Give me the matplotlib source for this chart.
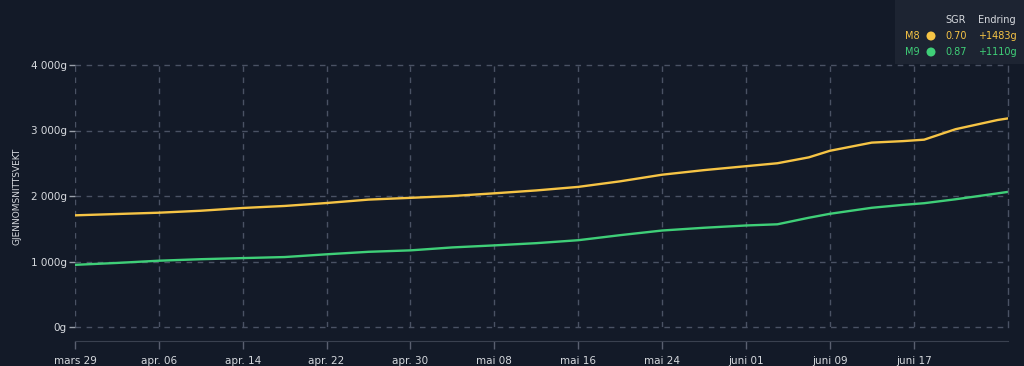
import matplotlib
matplotlib.use("Agg")
import matplotlib.pyplot as plt
import pandas as pd
from matplotlib.patches import Rectangle, Ellipse

# ---- data ----
day_offsets = [0, 4, 8, 12, 16, 20, 24, 28, 32, 36, 40, 44, 48, 52, 56, 60, 64, 67, 70, 72, 76, 79, 81, 84, 88, 89]
m8_values = [1705, 1725, 1745, 1775, 1817, 1848, 1893, 1945, 1972, 2000, 2041, 2085, 2139, 2224, 2325,
             2395, 2455, 2500, 2590, 2690, 2815, 2838, 2860, 3020, 3160, 3185]
m9_values = [949, 978, 1012, 1035, 1052, 1068, 1110, 1148, 1170, 1215, 1246, 1280, 1325, 1402, 1473,
             1515, 1550, 1568, 1668, 1728, 1820, 1865, 1890, 1950, 2040, 2063]
series_names = ["M8", "M9"]
sgr_values = ["0.70", "0.87"]
change_values = ["+1483g", "+1110g"]
y_ticks = [0, 1000, 2000, 3000, 4000]
y_tick_labels = ["0g", "1 000g", "2 000g", "3 000g", "4 000g"]
month_names = {3: "mars", 4: "apr.", 5: "mai", 6: "juni"}

start = pd.Timestamp("2024-03-29")
dates = [start + pd.Timedelta(days=d) for d in day_offsets]

BG = "#131a28"
GRID = "#4a5264"
TXT = "#d6d9de"
YELLOW = "#f6c445"
GREEN = "#3fcf78"

fig = plt.figure(figsize=(10.24, 3.66), dpi=100, facecolor=BG)
ax = fig.add_axes([75/1024, 1 - 327/366, (1008 - 75)/1024, (327 - 65)/366])
ax.set_facecolor(BG)

ax.plot(dates, m8_values, color=YELLOW, lw=1.7, solid_capstyle="round", solid_joinstyle="round")
ax.plot(dates, m9_values, color=GREEN, lw=1.7, solid_capstyle="round", solid_joinstyle="round")

ax.set_xlim(dates[0], dates[-1])
ax.set_ylim(0, 4000)

xt = [start + pd.Timedelta(days=8 * i) for i in range(11)]
ax.set_xticks(xt)
ax.set_xticklabels([f"{month_names[d.month]} {d.day:02d}" for d in xt])
ax.set_yticks(y_ticks)
ax.set_yticklabels(y_tick_labels)

ax.grid(True, color=GRID, ls=(0, (4, 4)), lw=1.0)
ax.set_axisbelow(True)
for gl in ax.get_xgridlines() + ax.get_ygridlines():
    gl.set_clip_on(False)

for s in ["top", "left"]:
    ax.spines[s].set_visible(False)
ax.spines["right"].set_color(GRID)
ax.spines["right"].set_linestyle((0, (4, 4)))
ax.spines["right"].set_linewidth(1.0)
ax.spines["bottom"].set_position(("outward", 10))
ax.spines["bottom"].set_color("#3a4150")

ax.tick_params(axis="x", colors="#5a6070", length=6, width=1, labelcolor=TXT, labelsize=7.5, pad=5)
ax.tick_params(axis="y", colors="#9aa0aa", length=4, width=1, labelcolor=TXT, labelsize=7.5, pad=2)

fig.text(17/1024, 1 - 196/366, "GJENNOMSNITTSVEKT", rotation=90, ha="center", va="center",
         color=TXT, fontsize=6.5)

# legend table
fig.patches.append(Rectangle((895/1024, 1 - 64/366), (1024 - 895)/1024, 64/366,
                             transform=fig.transFigure, facecolor="#1d2432", edgecolor="none", zorder=5))
fig.text(956/1024, 1 - 20/366, "SGR", ha="center", va="center", color=TXT, fontsize=7, zorder=6)
fig.text(997/1024, 1 - 20/366, "Endring", ha="center", va="center", color=TXT, fontsize=7, zorder=6)
for i, (name, col) in enumerate(zip(series_names, [YELLOW, GREEN])):
    yy = 1 - (36 + 16 * i) / 366
    fig.text(905/1024, yy, name, ha="left", va="center", color=col, fontsize=7, zorder=6)
    fig.patches.append(Ellipse((931/1024, yy), 9/1024, 9/366, transform=fig.transFigure,
                               facecolor=col, edgecolor="none", zorder=6))
    fig.text(956/1024, yy, sgr_values[i], ha="center", va="center", color=col, fontsize=7, zorder=6)
    fig.text(997/1024, yy, change_values[i], ha="center", va="center", color=col, fontsize=7, zorder=6)

fig.savefig("out.png", dpi=100, facecolor=BG)
